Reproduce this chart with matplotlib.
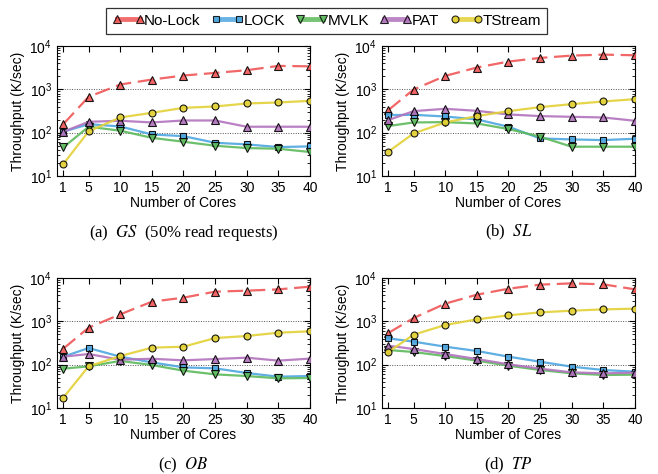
import matplotlib
matplotlib.use("Agg")
import matplotlib.pyplot as plt
from matplotlib.ticker import FixedLocator, LogLocator, NullFormatter

plt.rcParams['font.family'] = ['Liberation Sans', 'DejaVu Sans']

cores = [1, 5, 10, 15, 20, 25, 30, 35, 40]
methods = ["No-Lock", "LOCK", "MVLK", "PAT", "TStream"]

# throughput (K/sec) per panel
gs = {
    "No-Lock": [157, 671, 1290, 1680, 2080, 2390, 2760, 3470, 3390],
    "LOCK":    [105, 157, 139, 91, 83, 58.5, 53.6, 46.5, 48.2],
    "MVLK":    [45.7, 137, 111, 76, 61.7, 49.9, 44.1, 42.6, 35.7],
    "PAT":     [105, 178, 188, 172, 191, 191, 137, 137, 137],
    "TStream": [18.9, 107, 224, 287, 374, 402, 471, 497, 542],
}
sl = {
    "No-Lock": [331, 989, 2040, 3180, 4370, 5300, 6000, 6320, 6100],
    "LOCK":    [254, 258, 236, 202, 137, 73.6, 69.8, 67.4, 72.4],
    "MVLK":    [142, 172, 175, 163, 121, 80.5, 47.4, 47.4, 47.4],
    "PAT":     [195, 314, 355, 319, 263, 241, 232, 224, 188],
    "TStream": [36.3, 96, 172, 241, 314, 388, 455, 524, 593],
}
ob = {
    "No-Lock": [234, 714, 1450, 2840, 3520, 4840, 5100, 5470, 6310],
    "LOCK":    [153, 242, 153, 113, 86.7, 82.3, 64.2, 52.9, 54.7],
    "MVLK":    [80.9, 91.6, 122, 98.2, 72.7, 59.8, 54.7, 48.4, 49.2],
    "PAT":     [153, 176, 130, 137, 126, 135, 145, 124, 138],
    "TStream": [17.3, 91.6, 158, 247, 260, 412, 459, 547, 588],
}
tp = {
    "No-Lock": [538, 1190, 2560, 4120, 5670, 7020, 7530, 7140, 5470],
    "LOCK":    [405, 340, 260, 207, 153, 117, 89.9, 75.3, 68.9],
    "MVLK":    [218, 196, 158, 124, 94.8, 75.3, 63.1, 57.8, 58.8],
    "PAT":     [274, 230, 176, 135, 102, 80.9, 66.5, 63.1, 65.3],
    "TStream": [196, 492, 823, 1110, 1375, 1610, 1760, 1890, 1960],
}

panels = [
    (gs, "(a)  ", "GS", "  (50% read requests)"),
    (sl, "(b)  ", "SL", ""),
    (ob, "(c)  ", "OB", ""),
    (tp, "(d)  ", "TP", ""),
]

colors = {"No-Lock": "#f05555", "LOCK": "#4da6e0", "MVLK": "#5cba5c",
          "PAT": "#b272bd", "TStream": "#e3d136"}
markers = {"No-Lock": "^", "LOCK": "s", "MVLK": "v", "PAT": "^", "TStream": "o"}
styles = {"No-Lock": (0, (7, 3)), "LOCK": "-", "MVLK": "-", "PAT": "-", "TStream": "-"}
msize = {"No-Lock": 5.5, "LOCK": 5, "MVLK": 5.5, "PAT": 5.5, "TStream": 5}

fig = plt.figure(figsize=(6.58, 4.74), dpi=100)

rects = [
    [0.0866, 0.6287, 0.3845, 0.2743],
    [0.5805, 0.6287, 0.3845, 0.2743],
    [0.0866, 0.1392, 0.3845, 0.2743],
    [0.5805, 0.1392, 0.3845, 0.2743],
]

handles = []
for (data, pre, name, post), r in zip(panels, rects):
    ax = fig.add_axes(r)
    for m in methods:
        h, = ax.plot(cores, data[m], color=colors[m], linestyle=styles[m],
                     linewidth=1.6, alpha=0.9, marker=markers[m], markersize=msize[m],
                     markerfacecolor=colors[m], markeredgecolor="black",
                     markeredgewidth=0.8, label=m, zorder=3)
        if len(handles) < len(methods):
            handles.append(h)
    ax.set_yscale("log")
    ax.set_ylim(10, 10000)
    ax.set_xlim(0, 40)
    ax.xaxis.set_major_locator(FixedLocator(cores))
    ax.yaxis.set_major_locator(LogLocator(base=10, numticks=10))
    ax.yaxis.set_minor_locator(LogLocator(base=10, subs=range(2, 10), numticks=10))
    ax.yaxis.set_minor_formatter(NullFormatter())
    ax.tick_params(which="both", direction="in", top=True, right=True, labelsize=10)
    ax.tick_params(which="major", length=4)
    ax.tick_params(which="minor", length=2)
    for yv in [100, 1000]:
        ax.axhline(yv, color="#555555", linestyle=(0, (1, 1.5)), linewidth=0.7, zorder=1)
    ax.set_xlabel("Number of Cores", fontsize=10, labelpad=1)
    ax.set_ylabel("Throughput (K/sec)", fontsize=10, labelpad=3)
    cx = r[0] + r[2] / 2
    cy = r[1] - 0.12
    fig.text(cx, cy, pre + "$\\it{" + name + "}$" + post,
             ha="center", va="center", fontsize=12,
             family=["Liberation Serif", "DejaVu Serif"], math_fontfamily="stix")

leg = fig.legend(handles=handles, loc="upper center", bbox_to_anchor=(0.496, 1.0),
                 ncol=5, numpoints=2, handlelength=2.1, handletextpad=0.0,
                 columnspacing=0.7, fontsize=11, frameon=True, fancybox=False,
                 borderpad=0.4, edgecolor="black")
leg.get_frame().set_linewidth(0.9)
for lh in leg.get_lines():
    lh.set_linewidth(3.5)
    lh.set_linestyle("-")
    lh.set_alpha(0.85)

fig.savefig("out.png", dpi=100)
